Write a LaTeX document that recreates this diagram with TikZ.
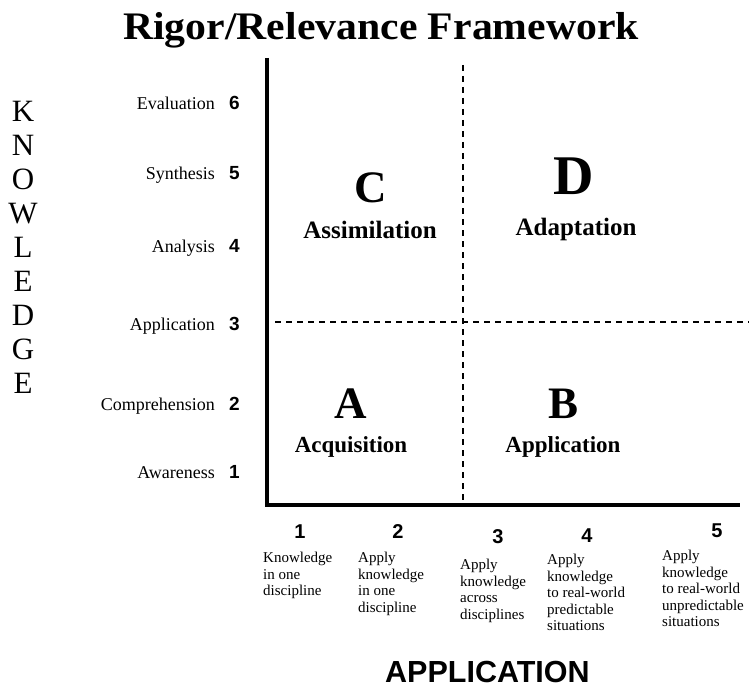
\documentclass[tikz,border=0pt]{standalone}
\usepackage{fontspec}
\usepackage{graphicx}
\setmainfont{Liberation Serif}
\newfontfamily\arialf{Liberation Sans}
\begin{document}
\begin{tikzpicture}[x=1pt,y=-1pt,
  lbl/.style={font=\fontsize{18}{20}\selectfont, anchor=base east, inner sep=0},
  lnum/.style={font=\arialf\bfseries\fontsize{19}{21}\selectfont, anchor=base west, inner sep=0},
  bnum/.style={font=\arialf\bfseries\fontsize{20}{22}\selectfont, anchor=base, inner sep=0},
  desc/.style={font=\fontsize{15}{16.5}\selectfont, align=left, anchor=north west, inner sep=0},
  kletter/.style={font=\fontsize{31}{34}\selectfont, anchor=base, inner sep=0},
  bigletter/.style={font=\bfseries\fontsize{45}{50}\selectfont, anchor=base, inner sep=0},
  qword/.style={font=\bfseries\fontsize{25}{28}\selectfont, anchor=base, inner sep=0},
  qwordb/.style={font=\bfseries\fontsize{23}{26}\selectfont, anchor=base, inner sep=0},
  axis/.style={line width=4.5pt, line join=miter},
  divider/.style={line width=1.2pt, dash pattern=on 6pt off 5pt}
]
\useasboundingbox (0,0) rectangle (749,687);

% title
\node[anchor=base west, inner sep=0, font=\bfseries\fontsize{39}{44}\selectfont] (title) at (123,40) {\scalebox{1.07}[1]{Rigor/Relevance Framework}};

% axes
\coordinate (ytop) at (267,58);
\coordinate (orig) at (267,505);
\coordinate (xend) at (740,505);
\draw[axis] (ytop) -- (orig) -- (xend);

% dividers
\coordinate (vt) at (463,65);
\coordinate (vb) at (463,503);
\coordinate (hl) at (275,322);
\coordinate (hr) at (749,322);
\draw[divider] (vt) -- (vb);
\draw[divider] (hl) -- (hr);

% KNOWLEDGE
\foreach \l [count=\i] in {K,N,O,W,L,E,D,G,E}
  \node[kletter] (kn\i) at (23,{122+33.9*(\i-1)}) {\l};

% left labels
\node[lbl] (l6) at (215,110) {Evaluation};
\node[lnum] (n6) at (229,110) {6};
\node[lbl] (l5) at (215,180) {Synthesis};
\node[lnum] (n5) at (229,180) {5};
\node[lbl] (l4) at (215,252) {Analysis};
\node[lnum] (n4) at (229,252) {4};
\node[lbl] (l3) at (215,330) {Application};
\node[lnum] (n3) at (229,330) {3};
\node[lbl] (l2) at (215,410) {Comprehension};
\node[lnum] (n2) at (229,410) {2};
\node[lbl] (l1) at (215,478) {Awareness};
\node[lnum] (n1) at (229,478) {1};

% quadrants
\node[bigletter, font=\bfseries\fontsize{45}{50}\selectfont] (qc) at (371,203) {C};
\node[qword] (qcw) at (370,238) {Assimilation};
\node[bigletter, font=\bfseries\fontsize{56}{60}\selectfont] (qd) at (574,195) {D};
\node[qword] (qdw) at (576,235) {Adaptation};
\node[bigletter] (qa) at (351,418) {A};
\node[qwordb] (qaw) at (351,452) {Acquisition};
\node[bigletter] (qb) at (563,418) {B};
\node[qwordb] (qbw) at (563,452) {Application};

% bottom numbers
\node[bnum] (b1) at (300,538) {1};
\node[bnum] (b2) at (398,538) {2};
\node[bnum] (b3) at (498,543) {3};
\node[bnum] (b4) at (587,542) {4};
\node[bnum] (b5) at (717,537) {5};

% bottom descriptions
\node[desc] (d1) at (263,552) {Knowledge\\in one\\discipline};
\node[desc] (d2) at (358,552) {Apply\\knowledge\\in one\\discipline};
\node[desc] (d3) at (460,559) {Apply\\knowledge\\across\\disciplines};
\node[desc] (d4) at (547,554) {Apply\\knowledge\\to real-world\\predictable\\situations};
\node[desc] (d5) at (662,550) {Apply\\knowledge\\to real-world\\unpredictable\\situations};

% axis title
\node[anchor=base west, inner sep=0, font=\arialf\bfseries\fontsize{30.5}{34}\selectfont] (xtitle) at (385,682.5) {APPLICATION};
\end{tikzpicture}
\end{document}
